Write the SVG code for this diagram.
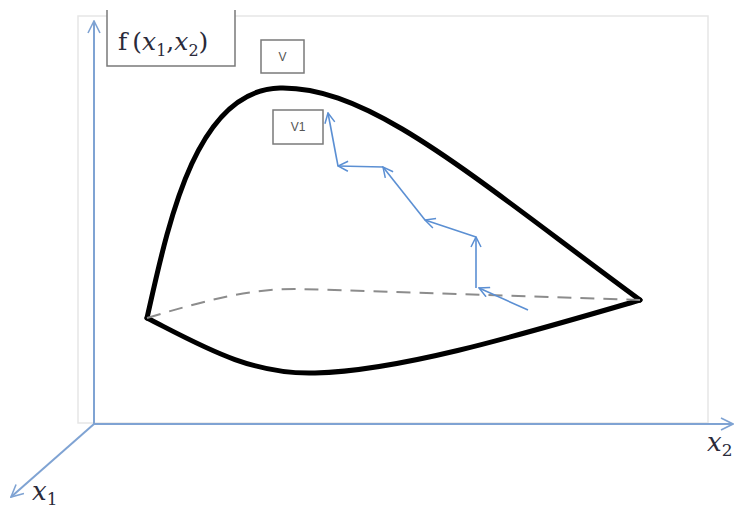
<svg xmlns="http://www.w3.org/2000/svg" width="736" height="508" viewBox="0 0 736 508">
<style>
.axis{stroke:#7fa3d3;stroke-width:2;fill:none}
.path{stroke:#5b8fd3;stroke-width:1.6;fill:none}
.shape{stroke:#000;stroke-width:5;fill:none;stroke-linejoin:round;stroke-linecap:round}
.dash{stroke:#8c8c8c;stroke-width:2;fill:none;stroke-dasharray:14,9}
.box{fill:#fff;stroke:#7a7a7a;stroke-width:1.5}
.lbl{font-family:"Liberation Sans",Arial,sans-serif;font-size:12px;fill:#555;text-anchor:middle}
.math{font-family:"DejaVu Serif","Liberation Serif",serif;fill:#2a2a3a}
</style>
<defs>
<marker id="ah" viewBox="0 0 12 12" refX="11" refY="6" markerWidth="12" markerHeight="12" markerUnits="userSpaceOnUse" orient="auto">
<path d="M1,1 L11,6 L1,11" fill="none" stroke="#5b8fd3" stroke-width="1.5"/>
</marker>
<marker id="axh" viewBox="0 0 14 14" refX="13" refY="7" markerWidth="14" markerHeight="14" markerUnits="userSpaceOnUse" orient="auto">
<path d="M1,1 L13,7 L1,13" fill="none" stroke="#7fa3d3" stroke-width="1.6"/>
</marker>
</defs>
<rect x="78" y="16" width="630" height="407" fill="none" stroke="#e6e6e6" stroke-width="1.5"/>
<g id="axes">
<line class="axis" x1="94" y1="424" x2="94" y2="21" marker-end="url(#axh)"/>
<line class="axis" x1="94" y1="424" x2="733" y2="424" marker-end="url(#axh)"/>
<line class="axis" x1="94" y1="424" x2="11" y2="497" marker-end="url(#axh)"/>
</g>
<g id="surface">
<path class="shape" d="M147,318 C168,225 195,90 280,88 C370,86 470,175 640,300"/>
<path class="shape" d="M147,318 C200,345 250,375 315,373 C400,371 520,335 640,300"/>
<path class="dash" d="M147,318 C200,302 250,288 300,289 C400,292 520,296 640,300"/>
</g>
<g id="connectors">
<line class="path" x1="528" y1="310" x2="479" y2="288" marker-end="url(#ah)"/>
<line class="path" x1="476" y1="288" x2="476" y2="237" marker-end="url(#ah)"/>
<line class="path" x1="476" y1="237" x2="425" y2="220" marker-end="url(#ah)"/>
<line class="path" x1="425" y1="220" x2="383" y2="167" marker-end="url(#ah)"/>
<line class="path" x1="383" y1="167" x2="338" y2="166" marker-end="url(#ah)"/>
<line class="path" x1="338" y1="166" x2="328" y2="113" marker-end="url(#ah)"/>
</g>
<g id="label-f">
<rect x="107" y="6" width="128" height="60" fill="#fff" stroke="none"/>
<path d="M107,10 V66 H235 V10" fill="none" stroke="#7a7a7a" stroke-width="1.5"/>
<text class="math" x="118" y="50" font-size="25">f<tspan dx="5">(</tspan><tspan font-style="italic">x</tspan><tspan font-size="16" dy="6">1</tspan><tspan dy="-6">,</tspan><tspan font-style="italic">x</tspan><tspan font-size="16" dy="6">2</tspan><tspan dy="-6">)</tspan></text>
</g>
<g id="node-V">
<rect class="box" x="261" y="40" width="43" height="33"/>
<text class="lbl" x="282.5" y="61">V</text>
</g>
<g id="node-V1">
<rect class="box" x="273" y="110" width="50" height="34"/>
<text class="lbl" x="298" y="131">V1</text>
</g>
<g id="axis-labels">
<text class="math" x="707" y="451" font-size="26"><tspan font-style="italic">x</tspan><tspan font-size="17" dy="5">2</tspan></text>
<text class="math" x="32" y="500" font-size="26"><tspan font-style="italic">x</tspan><tspan font-size="17" dy="5">1</tspan></text>
</g>
</svg>
